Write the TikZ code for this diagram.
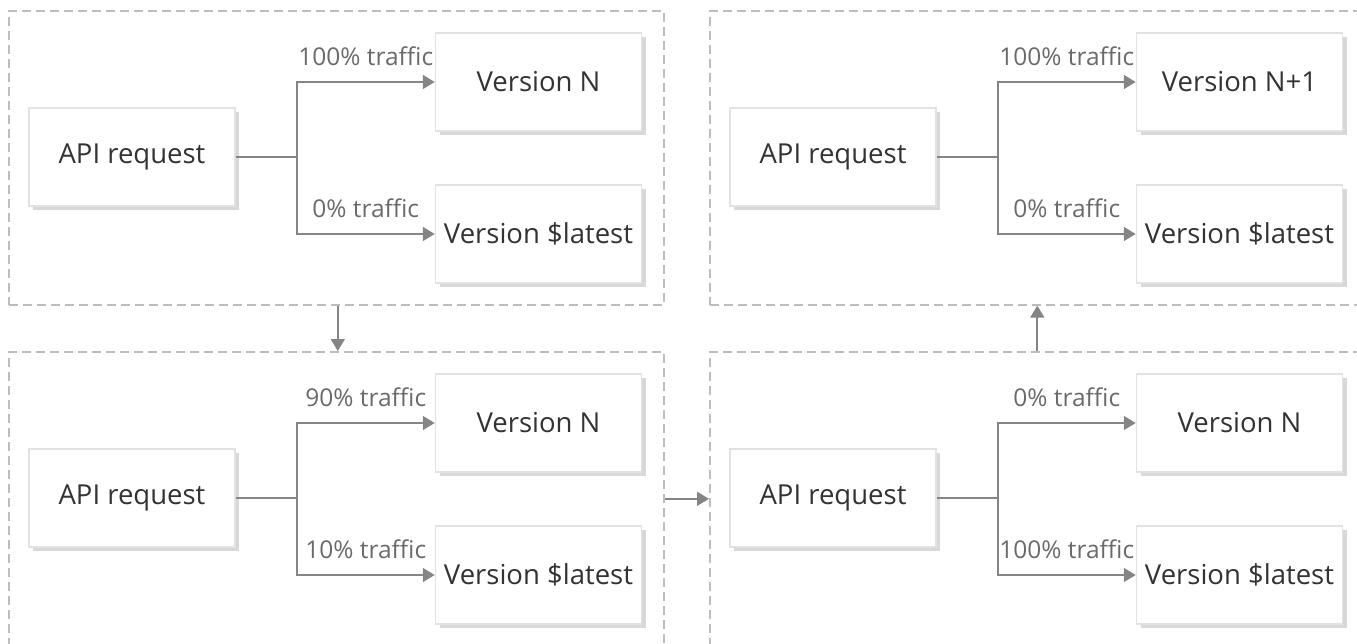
\documentclass[tikz,border=0pt]{standalone}
\usepackage{fontspec}
\setmainfont{Open Sans}
\usetikzlibrary{arrows.meta,positioning,shadows}
\definecolor{dashgray}{HTML}{BDBDBD}
\definecolor{linegray}{HTML}{858585}
\definecolor{boxline}{HTML}{E2E2E2}
\definecolor{shadowgray}{HTML}{D8D8D8}
\definecolor{textdark}{HTML}{333333}
\definecolor{labgray}{HTML}{6A6A6A}
\tikzset{
    %Define standard arrow tip
    >={Triangle[length=12pt,width=14pt]},
    %Define style for the dashed stages
    panel/.style={
           rectangle,
           draw=dashgray, line width=1.6pt,
           dash pattern=on 9pt off 5pt,
           minimum width=655pt,
           minimum height=294pt,
           anchor=north west,
           },
    %Define style for boxes
    box/.style={
           rectangle,
           draw=boxline, line width=1.5pt,
           fill=white,
           minimum width=206pt,
           minimum height=98pt,
           text=textdark,
           font=\fontsize{27.5}{31}\selectfont,
           general shadow={fill=shadowgray, shadow xshift=4pt, shadow yshift=-4pt},
           },
    % Define arrow style
    wire/.style={
           draw=linegray,
           line width=1.8pt,},
    pil/.style={
           wire,
           ->,},
    lab/.style={
           anchor=base,
           yshift=17pt,
           inner sep=0pt,
           text=labgray,
           font=\fontsize{24.5}{28}\selectfont,}
}

\begin{document}
\begin{tikzpicture}[x=1pt,y=-1pt]
\useasboundingbox (0,0) rectangle (1357,643);
\clip (0,0) rectangle (1357,643);

 %stages
\foreach \px/\py/\pn/\vtop/\ltop/\lbot in
    {8/10/tl/N/100/0, 8/351/bl/N/90/10, 709/10/tr/N+1/100/0, 709/351/br/N/0/100}{
  \node[panel](\pn) at (\px,\py){};
  \node[box](\pn-api) at ([shift={(124,147)}]\pn.north west){API request};
  \node[box, right=199pt of \pn-api, yshift=75pt](\pn-vt){Version \vtop};
  \node[box, right=199pt of \pn-api, yshift=-77pt](\pn-vb){Version \$latest};
  \draw[wire] (\pn-api.east) -- ++(61,0) coordinate (\pn-fork);
  \draw[pil] (\pn-fork) |- node[lab, pos=.75]{\ltop\% traffic} (\pn-vt.west);
  \draw[pil] (\pn-fork) |- node[lab, pos=.75]{\lbot\% traffic} (\pn-vb.west);
}

 %steps
\draw[pil] ([xshift=1.5pt]tl.south) -- ([xshift=1.5pt]bl.north);
\draw[pil] (bl.east) -- (br.west);
\draw[pil] (br.north) -- (tr.south);

\end{tikzpicture}
\end{document}
